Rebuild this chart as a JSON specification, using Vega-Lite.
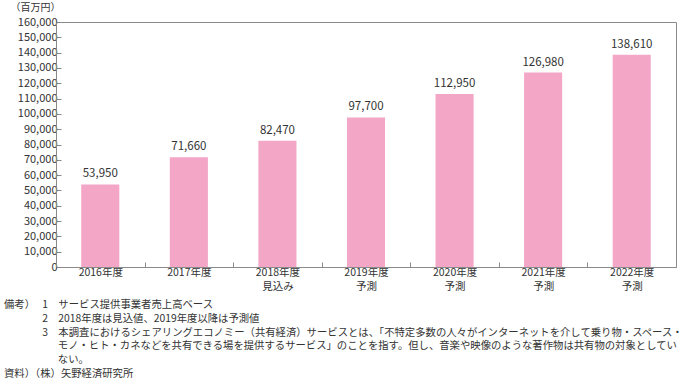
{
  "$schema": "https://vega.github.io/schema/vega-lite/v6.json",
  "width": 620,
  "height": 245,
  "autosize": {"type": "none"},
  "padding": {"left": 56, "top": 22, "right": 12, "bottom": 114},
  "background": "white",
  "config": {
    "font": "Noto Sans CJK JP",
    "view": {"stroke": "#8a8a8a", "strokeWidth": 1},
    "axis": {"domainColor": "#8a8a8a", "tickColor": "#8a8a8a", "labelColor": "#333333", "labelFontSize": 11, "grid": false}
  },
  "title": {
    "text": [
      "備考）\u2002\u20091\u2003サービス提供事業者売上高ベース",
      "\u200b\u3000\u3000\u3000\u2002\u20092\u20032018年度は見込値、2019年度以降は予測値",
      "\u200b\u3000\u3000\u3000\u2002\u20093\u2003本調査におけるシェアリングエコノミー（共有経済）サービスとは、「不特定多数の人々がインターネットを介して乗り物・スペース・",
      "\u200b\u3000\u3000\u3000\u2002\u2009\u2002\u2003モノ・ヒト・カネなどを共有できる場を提供するサービス」のことを指す。但し、音楽や映像のような著作物は共有物の対象としてい",
      "\u200b\u3000\u3000\u3000\u2002\u2009\u2002\u2003ない。",
      "資料）（株）矢野経済研究所"
    ],
    "orient": "bottom",
    "anchor": "start",
    "frame": "group",
    "dx": -52,
    "offset": 8,
    "fontSize": 10.35,
    "fontWeight": "normal",
    "lineHeight": 13.8,
    "color": "#333333"
  },
  "data": {
    "values": [
      {"year": "2016年度", "value": 53950},
      {"year": "2017年度", "value": 71660},
      {"year": "2018年度|見込み", "value": 82470},
      {"year": "2019年度|予測", "value": 97700},
      {"year": "2020年度|予測", "value": 112950},
      {"year": "2021年度|予測", "value": 126980},
      {"year": "2022年度|予測", "value": 138610}
    ]
  },
  "encoding": {
    "x": {
      "field": "year",
      "type": "nominal",
      "sort": null,
      "scale": {"paddingInner": 0, "paddingOuter": 0},
      "axis": {
        "title": null,
        "labelAngle": 0,
        "labelExpr": "split(datum.label, '|')",
        "tickBand": "extent",
        "tickSize": -5,
        "labelPadding": 5,
        "labelFontSize": 10.5,
        "labelLineHeight": 14.5
      }
    },
    "y": {
      "field": "value",
      "type": "quantitative",
      "scale": {"domain": [0, 160000], "nice": false},
      "axis": {
        "title": "（百万円）",
        "titleAngle": 0,
        "titleAlign": "left",
        "titleBaseline": "middle",
        "titleX": -46,
        "titleY": -15,
        "titleFontSize": 10,
        "titleFontWeight": "normal",
        "titleColor": "#333333",
        "values": [0, 10000, 20000, 30000, 40000, 50000, 60000, 70000, 80000, 90000, 100000, 110000, 120000, 130000, 140000, 150000, 160000],
        "format": ",d",
        "tickSize": -5,
        "labelPadding": 4
      }
    }
  },
  "layer": [
    {
      "mark": {"type": "bar", "color": "#F3A6C5", "width": {"band": 0.43}}
    },
    {
      "mark": {"type": "text", "baseline": "bottom", "dy": -5, "fontSize": 11.5, "color": "#333333"},
      "encoding": {"text": {"field": "value", "type": "quantitative", "format": ",d"}}
    }
  ]
}
